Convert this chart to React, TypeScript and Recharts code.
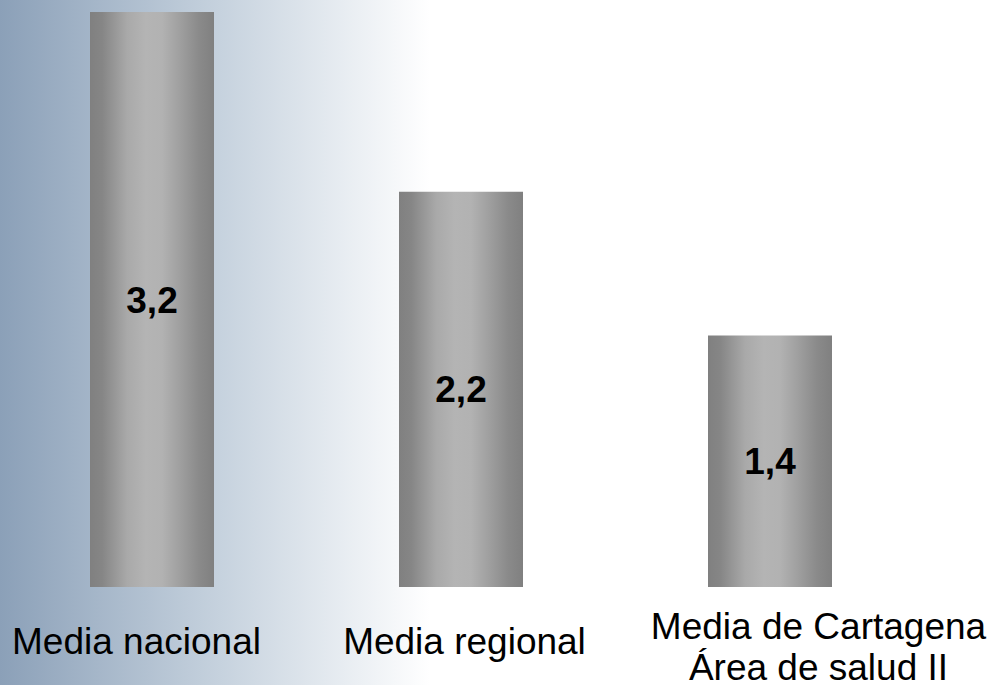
import { BarChart, Bar, XAxis, YAxis, LabelList } from 'recharts'

const categories = ['Media nacional', 'Media regional', 'Media de Cartagena\nÁrea de salud II']
const values = [3.2, 2.2, 1.4]

const data = categories.map((name, i) => ({ name, value: values[i] }))

// small horizontal nudges so the labels sit like in the original slide
const labelShift = [-15, 4, 49]

const CategoryTick = ({ x, y, payload, index }: any) => {
  const lines = String(payload.value).split('\n')
  const cx = x + (labelShift[index] ?? 0)
  const first = lines.length > 1 ? 52 : 67
  return (
    <text
      x={cx}
      y={y + first}
      textAnchor="middle"
      fill="#000"
      style={{ fontFamily: '"Liberation Sans", Arial, sans-serif', fontSize: 37 }}
    >
      {lines.map((line, i) => (
        <tspan key={i} x={cx} dy={i === 0 ? 0 : 41}>
          {line}
        </tspan>
      ))}
    </text>
  )
}

export default function App() {
  return (
    <div
      style={{
        position: 'absolute',
        left: 0,
        top: 0,
        width: 991,
        height: 685,
        background: 'linear-gradient(to right, #8ba0b8 0px, #c6d2de 220px, #ffffff 430px, #ffffff 991px)',
        fontFamily: '"Liberation Sans", Arial, sans-serif',
      }}
    >
      <BarChart
        width={991}
        height={685}
        data={data}
        margin={{ top: 12, right: 67, left: -3, bottom: 0 }}
      >
        <defs>
          <linearGradient id="barGradient" x1="0" y1="0" x2="1" y2="0">
            <stop offset="0%" stopColor="#808080" />
            <stop offset="10%" stopColor="#868686" />
            <stop offset="30%" stopColor="#a9a9a9" />
            <stop offset="45%" stopColor="#b4b4b4" />
            <stop offset="58%" stopColor="#b2b2b2" />
            <stop offset="72%" stopColor="#a0a0a0" />
            <stop offset="88%" stopColor="#8a8a8a" />
            <stop offset="100%" stopColor="#808080" />
          </linearGradient>
        </defs>
        <XAxis
          dataKey="name"
          axisLine={false}
          tickLine={false}
          tickSize={0}
          tickMargin={0}
          height={98}
          interval={0}
          tick={<CategoryTick />}
        />
        <YAxis hide domain={[0, 3.2]} />
        <Bar dataKey="value" fill="url(#barGradient)" barSize={124} isAnimationActive={false}>
          <LabelList
            dataKey="value"
            position="center"
            formatter={(v: any) => String(v).replace('.', ',')}
            style={{ fontFamily: '"Liberation Sans", Arial, sans-serif', fontSize: 37, fontWeight: 'bold', fill: '#000' }}
          />
        </Bar>
      </BarChart>
    </div>
  )
}
